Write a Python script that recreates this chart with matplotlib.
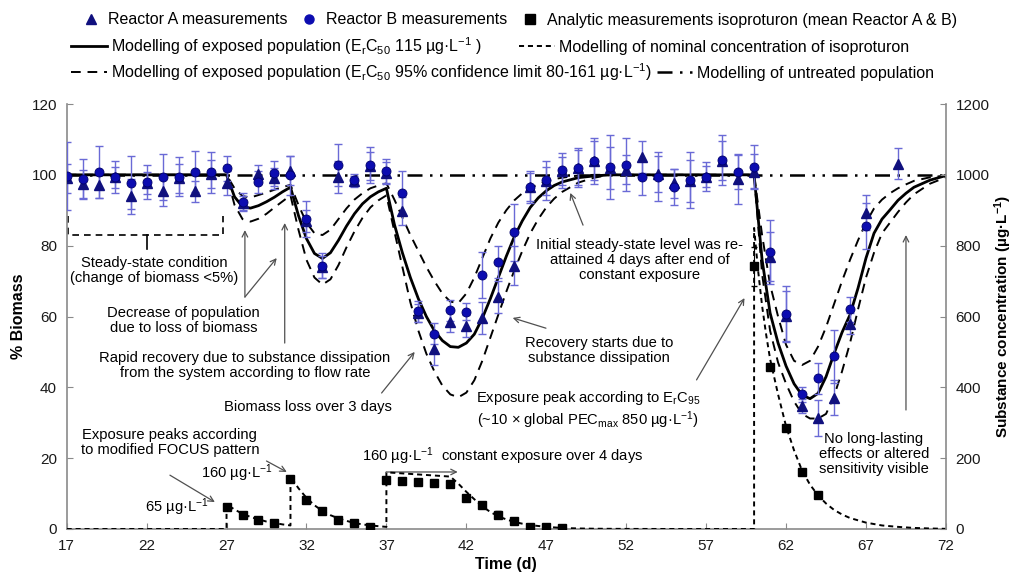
import matplotlib
matplotlib.use("Agg")
import matplotlib.pyplot as plt
from matplotlib.lines import Line2D
import numpy as np

plt.rcParams['font.family'] = ['Liberation Sans', 'DejaVu Sans']
plt.rcParams['mathtext.fontset'] = 'custom'
plt.rcParams['mathtext.rm'] = 'Liberation Sans'
plt.rcParams['mathtext.it'] = 'Liberation Sans:italic'
plt.rcParams['mathtext.bf'] = 'Liberation Sans:bold'

# biomass measurements (% of control), days 17-67 and 69
days_bio = list(range(17, 68)) + [69]
biomass_a = [99.0, 97.4, 97.0, 99.3, 93.9, 97.7, 95.3, 99.0, 95.3, 100.2,
             97.7, 92.0, 100.2, 99.0, 101.2, 87.0, 74.0, 99.4, 98.2, 102.5,
             100.5, 89.7, 61.0, 50.8, 58.5, 57.3, 59.5, 65.4, 74.3, 96.5,
             98.3, 101.0, 102.0, 104.0, 102.0, 101.5, 105.1, 100.2, 97.6, 98.3,
             99.5, 104.0, 98.7, 100.9, 76.9, 60.1, 34.7, 31.4, 37.1, 58.0,
             89.3, 103.2]
err_a = [4, 4, 3.5, 3, 5, 3, 4, 4, 3, 4,
         3.5, 2, 2.5, 3, 4, 3, 3, 4.5, 1.5, 4,
         3, 4, 2.5, 4.5, 3, 3, 4.5, 4.5, 5.5, 4,
         4, 4, 5, 5.5, 6, 4, 4.5, 5, 4, 6,
         3, 5.5, 7, 5, 7, 7, 2, 5, 5, 3,
         5, 4.5]
biomass_b = [99.7, 98.8, 100.8, 99.5, 97.8, 98.0, 99.4, 99.4, 100.9, 100.7,
             101.8, 92.3, 98.0, 100.4, 99.9, 87.5, 74.3, 102.8, 98.6, 102.8,
             101.1, 95.0, 61.5, 55.2, 61.8, 61.4, 71.7, 75.5, 83.8, 96.6,
             98.5, 101.3, 102.0, 103.9, 102.3, 102.8, 99.3, 99.5, 96.6, 98.5,
             99.5, 104.2, 100.9, 102.3, 78.2, 60.7, 38.0, 42.5, 48.8, 62.0,
             85.5, np.nan]
err_b = [9.7, 5.7, 7.4, 4.5, 7.5, 4.7, 6.5, 5.5, 5.7, 5.7,
         3.5, 2.5, 3.0, 3.5, 5.5, 5.0, 3.5, 6.0, 1.5, 5.0,
         3.5, 6.0, 3.0, 3.0, 3.0, 2.5, 6.5, 4.5, 8.0, 4.5,
         5.5, 5.0, 5.5, 6.5, 9.0, 7.5, 5.0, 7.0, 5.0, 8.0,
         4.0, 7.0, 5.0, 6.0, 9.0, 8.0, 2.0, 4.5, 7.5, 3.5,
         6.5, np.nan]

# modelled biomass (ErC50 115 ug/L and 95% confidence limits)
model_t = [17, 27, 27.5, 28, 28.5, 29, 29.5, 30, 30.5, 31, 31.5, 32, 32.5, 33, 33.5,
           34, 34.5, 35, 35.5, 36, 36.5, 37, 37.5, 38, 38.5, 39, 39.5, 40, 40.5,
           41, 41.5, 42, 42.5, 43, 43.5, 44, 44.5, 45, 45.5, 46, 46.5, 47, 47.5,
           48, 49, 50, 51, 60, 60.5, 61, 61.5, 62, 62.5, 63, 63.5, 64, 64.5, 65,
           65.5, 66, 66.5, 67, 67.5, 68, 68.5, 69, 69.5, 70, 71, 72]
model_mid = [100, 100, 93.8, 91.0, 90.6, 91.3, 92.4, 93.7, 95.2, 96.5, 88.5, 82.0, 77.8, 76.4, 78.0,
             81.5, 85.5, 89.0, 91.8, 93.8, 95.2, 96.2, 86.0, 78.0, 71.0, 65.0, 60.0, 56.0, 53.2,
             51.5, 51.3, 52.5, 55.0, 59.5, 65.0, 71.0, 77.0, 82.5, 87.0, 90.8, 93.5, 95.5, 97.0,
             98.0, 99.2, 99.7, 100, 100, 76, 61, 52.5, 46, 41, 37.8, 36.8, 38.3, 43, 49.5,
             55.5, 60.5, 68, 76.5, 83.5, 87.5, 90.1, 92.8, 94.8, 96.5, 98.5, 99.8]
model_hi = [100, 100, 96.2, 94.0, 93.6, 94.3, 95.0, 95.8, 96.5, 97.2, 91.5, 86.5, 83.5, 83.0, 84.5,
            87.5, 90.5, 93.0, 94.8, 96.2, 97.0, 97.6, 93.0, 88.0, 83.0, 78.5, 74.0, 70.0, 66.5,
            64.2, 63.8, 66.5, 71.0, 76.5, 82.0, 86.5, 90.0, 92.8, 94.8, 96.3, 97.3, 98.2, 98.8,
            99.2, 99.8, 100, 100, 100, 83, 69, 60, 52, 47.5, 46.3, 47.5, 51.5, 57, 63.5,
            70, 76, 81.5, 86.5, 90.5, 93, 94.8, 96.2, 97.3, 98.3, 99.3, 99.8]
model_lo = [100, 100, 91.5, 87.5, 86.8, 87.6, 89.0, 90.8, 92.5, 94.2, 84.5, 76.0, 71.0, 69.0, 70.5,
            74.5, 79.5, 84.0, 87.8, 90.8, 92.8, 94.2, 84.0, 74.0, 64.0, 56.0, 49.5, 44.5, 40.5,
            38.0, 37.2, 38.5, 42.0, 47.5, 54.0, 60.5, 67.0, 73.0, 78.5, 83.5, 87.5, 90.8, 93.3,
            95.2, 97.8, 99.2, 100, 100, 72, 56, 47, 41, 36, 32.5, 31.2, 31.2, 32.5, 37.5,
            44.5, 52.5, 62, 71, 78, 83.5, 86.5, 89.5, 92.2, 94.5, 97.5, 99.3]

# nominal (modelled) isoproturon concentration, ug/L
nom_t = [17, 27, 27, 27.5, 28, 28.5, 29, 29.5, 30, 30.5, 31, 31, 31.5, 32, 32.5, 33, 33.5,
         34, 34.5, 35, 35.5, 36, 36.5, 37, 37, 38, 39, 40, 41, 41.5, 42, 42.5, 43, 43.5,
         44, 44.5, 45, 45.5, 46, 47, 48, 49, 50, 52, 55, 60, 60, 60.25, 60.5, 60.75, 61,
         61.5, 62, 62.5, 63, 63.5, 64, 64.5, 65, 65.5, 66, 67, 68, 69, 70, 71, 72]
nom_c = [0, 0, 70, 55, 43, 34, 27, 21, 17, 13, 10, 148, 115, 88, 67, 51, 39,
         30, 23, 17, 13, 10, 8, 6, 160, 157, 154, 151, 148, 128, 105, 84, 64, 48,
         36, 27, 20, 15, 11, 6, 3, 1.5, 0.8, 0.3, 0, 0, 850, 730, 630, 550, 480,
         380, 290, 222, 165, 125, 95, 72, 54, 41, 31, 18, 10, 6, 3, 1.5, 0.5]

# analytic measurements (mean reactor A & B), ug/L
an_days = [27, 28, 29, 30, 31, 32, 33, 34, 35, 36, 37, 38, 39, 40, 41, 42, 43, 44,
           45, 46, 47, 48, 60, 61, 62, 63, 64]
an_conc = [63, 40, 25, 18, 141, 82, 51, 25, 18, 7, 138, 135, 132, 129, 126, 88, 68, 40,
           23, 7, 5, 2, 742, 457, 284, 162, 96]
an_err = [0, 0, 0, 0, 4, 0, 0, 0, 0, 0, 5, 0, 0, 0, 0, 0, 8, 10,
          0, 0, 3, 0, 55, 0, 0, 0, 0]

col_a = '#10107e'
col_b = '#0c0cb0'
col_err = '#6a6ad6'
gray = '#8a8a8a'
arrow_col = '#505050'

fig = plt.figure(figsize=(10.13, 5.74), dpi=100)
ax = fig.add_axes([0.0658, 0.0784, 0.868, 0.7404])
ax2 = ax.twinx()

untreated = (0, (6, 3, 1, 3, 1, 3))
ci_dash = (0, (5, 3.5))
nom_dash = (0, (2.6, 2))

ax.plot([17, 72], [100, 100], color='k', lw=1.8, ls=untreated, zorder=2)
ax.plot(model_t, model_hi, color='k', lw=1.4, ls=ci_dash, zorder=2)
ax.plot(model_t, model_lo, color='k', lw=1.4, ls=ci_dash, zorder=2)
ax.plot(model_t, model_mid, color='k', lw=2.0, zorder=2)

ax.errorbar(days_bio, biomass_a, yerr=err_a, fmt='none', ecolor=col_err,
            elinewidth=1, capsize=3, capthick=1, zorder=3)
ax.errorbar(days_bio, biomass_b, yerr=err_b, fmt='none', ecolor=col_err,
            elinewidth=1, capsize=3, capthick=1, zorder=3)
ax.plot(days_bio, biomass_a, '^', ms=6.5, color=col_a, zorder=4)
ax.plot(days_bio, biomass_b, 'o', ms=6.5, color=col_b, mec='#00006a', mew=0.6, zorder=5)

ax2.plot(nom_t, nom_c, color='k', lw=1.4, ls=nom_dash, zorder=2)
ax2.errorbar(an_days, an_conc, yerr=an_err, fmt='s', ms=5.5, color='k',
             ecolor='k', elinewidth=0.8, capsize=2.5, zorder=3)

# axes styling
ax.set_xlim(17, 72)
ax.set_ylim(0, 120)
ax2.set_ylim(0, 1200)
ax.set_xticks(np.arange(17, 73, 5))
ax.set_yticks(np.arange(0, 121, 20))
ax2.set_yticks(np.arange(0, 1201, 200))
for a in (ax, ax2):
    a.spines['top'].set_visible(False)
    for s in ('left', 'right', 'bottom'):
        a.spines[s].set_color(gray)
        a.spines[s].set_linewidth(1.2)
    a.tick_params(direction='in', length=4, color=gray, labelsize=11,
                  labelcolor='#1a1a1a', pad=7)
ax.spines['right'].set_visible(False)
ax2.spines['left'].set_visible(False)
ax2.spines['bottom'].set_visible(False)

ax.set_ylabel('% Biomass', fontsize=11.5, fontweight='bold', labelpad=4)
ax2.set_ylabel(r'Substance concentration (µg·L$\mathregular{^{-1}}$)', fontsize=11,
               fontweight='bold', labelpad=2)
ax.set_xlabel('Time (d)', fontsize=11.5, fontweight='bold', labelpad=3)

# annotations
fs = 10.6
ugl = r'µg·L$\mathregular{^{-1}}$'
arr = dict(arrowstyle='->', color=arrow_col, lw=0.9, shrinkA=0, shrinkB=0)

ax.plot([17.1, 17.1, 26.8, 26.8], [88.4, 83, 83, 88.4], color='k', lw=1.2, ls=(0, (4, 3)))
ax.plot([22, 22], [83, 79], color='k', lw=1.2)
ax.text(22.5, 73, 'Steady-state condition\n(change of biomass <5%)', ha='center',
        va='center', fontsize=fs, linespacing=1.1)

ax.text(24.3, 58.9, 'Decrease of population\ndue to loss of biomass', ha='center',
        va='center', fontsize=fs, linespacing=1.1)
ax.annotate('', xy=(28.15, 84.4), xytext=(28.15, 65.5), arrowprops=arr)
ax.annotate('', xy=(30.14, 76.5), xytext=(28.15, 65.5), arrowprops=arr)

ax.text(28.14, 46.2, 'Rapid recovery due to substance dissipation\nfrom the system according to flow rate',
        ha='center', va='center', fontsize=fs, linespacing=1.1)
ax.annotate('', xy=(30.64, 86.4), xytext=(30.64, 52.5), arrowprops=arr)

ax.text(32.08, 34.4, 'Biomass loss over 3 days', ha='center', va='center', fontsize=fs)
ax.annotate('', xy=(38.77, 50), xytext=(36.7, 38.4), arrowprops=arr)

ax.text(50.3, 50.4, 'Recovery starts due to\nsubstance dissipation', ha='center',
        va='center', fontsize=fs, linespacing=1.1)
ax.annotate('', xy=(44.9, 59.6), xytext=(46.98, 56.7), arrowprops=arr)

ax.text(52.83, 75.9, 'Initial steady-state level was re-\nattained 4 days after end of\nconstant exposure',
        ha='center', va='center', fontsize=fs, linespacing=1.1)
ax.annotate('', xy=(48.5, 94.9), xytext=(49.3, 85.8), arrowprops=arr)

ax.text(49.6, 33.6, r'Exposure peak according to E$\mathregular{_r}$C$\mathregular{_{95}}$' + '\n'
        + r'(~10 × global PEC$\mathregular{_{max}}$ 850 ' + ugl + ')',
        ha='center', va='center', fontsize=fs, linespacing=1.1)
ax.annotate('', xy=(59.4, 65.2), xytext=(56.4, 42.1), arrowprops=arr)

ax.text(67.5, 21.2, 'No long-lasting\neffects or altered\nsensitivity visible', ha='center',
        va='center', fontsize=fs, linespacing=1.1)
ax.annotate('', xy=(69.5, 83), xytext=(69.5, 33.6), arrowprops=arr)

ax.text(23.46, 24.4, 'Exposure peaks according\nto modified FOCUS pattern', ha='center',
        va='center', fontsize=fs, linespacing=1.1)
ax.annotate('', xy=(26.27, 7.6), xytext=(23.46, 15.2), arrowprops=arr)
ax.annotate('', xy=(30.77, 16.1), xytext=(29.5, 19.2), arrowprops=arr)
ax.text(23.9, 6.2, '65 ' + ugl, ha='center', va='center', fontsize=fs)
ax.text(27.66, 15.8, '160 ' + ugl, ha='center', va='center', fontsize=fs)
ax.text(35.45, 20.6, '160 ' + ugl + '  constant exposure over 4 days', ha='left',
        va='center', fontsize=fs)
ax.annotate('', xy=(41.46, 16.1), xytext=(37.02, 16.1), arrowprops=arr)

# legend, three rows
leg_kw = dict(loc='center left', frameon=False, fontsize=11.5, borderpad=0,
              borderaxespad=0, handletextpad=0.25)
row1 = [Line2D([], [], marker='^', ls='none', color=col_a, ms=6.5),
        Line2D([], [], marker='o', ls='none', color=col_b, ms=6.5),
        Line2D([], [], marker='s', ls='none', color='k', ms=6.5)]
fig.legend(row1, ['Reactor A measurements', 'Reactor B measurements',
                  'Analytic measurements isoproturon (mean Reactor A & B)'],
           ncol=3, columnspacing=0.6, handlelength=1.6,
           bbox_to_anchor=(78 / 1013, 1 - 20 / 574), **leg_kw)
row2 = [Line2D([], [], color='k', lw=2.0),
        Line2D([], [], color='k', lw=1.4, ls=nom_dash)]
fig.legend(row2, [r'Modelling of exposed population (E$\mathregular{_r}$C$\mathregular{_{50}}$ 115 ' + ugl + ' )',
                  'Modelling of nominal concentration of isoproturon'],
           ncol=2, columnspacing=2.3, handlelength=2.25,
           bbox_to_anchor=(71 / 1013, 1 - 46 / 574), **leg_kw)
row3 = [Line2D([], [], color='k', lw=1.4, ls=ci_dash),
        Line2D([], [], color='k', lw=1.8, ls=untreated)]
fig.legend(row3, [r'Modelling of exposed population (E$\mathregular{_r}$C$\mathregular{_{50}}$ 95% confidence limit 80-161 ' + ugl + ')',
                  'Modelling of untreated population'],
           ncol=2, columnspacing=0.3, handlelength=2.25,
           bbox_to_anchor=(71 / 1013, 1 - 72 / 574), **leg_kw)

fig.savefig('out.png', dpi=100)
